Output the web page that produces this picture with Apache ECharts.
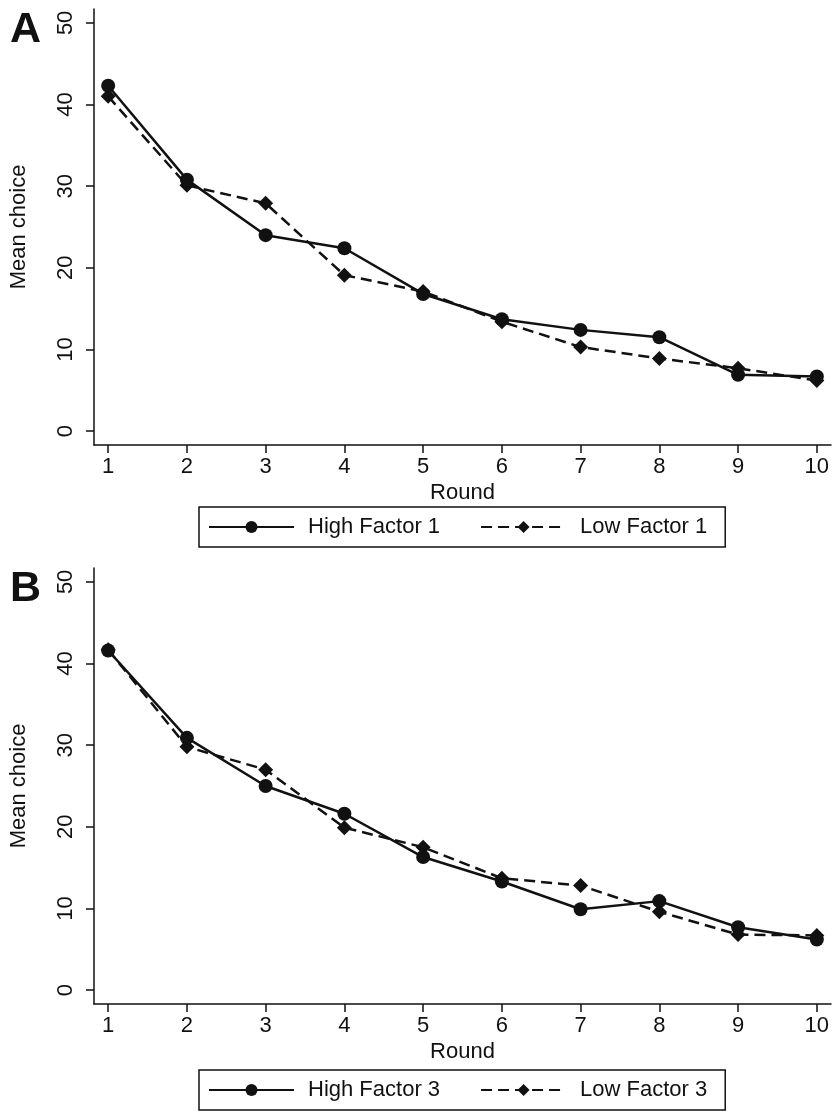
<!DOCTYPE html>
<html>
<head>
<meta charset="utf-8">
<script src="https://cdn.jsdelivr.net/npm/echarts@6/dist/echarts.min.js"></script>
<style>
  html, body { margin: 0; padding: 0; background: #fff; }
  #chart { width: 834px; height: 1111px; }
</style>
</head>
<body>
<div id="chart"></div>
<script>
// Rounds 1..10 and mean choices per group
const rounds = [1, 2, 3, 4, 5, 6, 7, 8, 9, 10];
const yTicks = [0, 10, 20, 30, 40, 50];

const highFactor1 = [42.3, 30.8, 24.0, 22.4, 16.8, 13.7, 12.4, 11.5, 6.9, 6.7];
const lowFactor1  = [41.0, 30.1, 27.9, 19.1, 17.1, 13.4, 10.3, 8.9, 7.7, 6.2];

const highFactor3 = [41.6, 30.9, 25.0, 21.6, 16.3, 13.3, 9.9, 10.9, 7.7, 6.2];
const lowFactor3  = [41.7, 29.8, 27.0, 19.9, 17.5, 13.7, 12.8, 9.6, 6.8, 6.7];

const FONT = '"Liberation Sans", Arial, sans-serif';
const INK = '#111';

function pairs(values) {
  return rounds.map((r, i) => [r, values[i]]);
}

function xAxisFor(gridIndex) {
  return {
    type: 'value', gridIndex,
    min: 0.82, max: 10.18,
    name: 'Round', nameLocation: 'middle', nameGap: 37,
    nameTextStyle: { fontFamily: FONT, fontSize: 22, color: INK },
    axisLine: { show: true, onZero: false, lineStyle: { color: INK, width: 1.5 } },
    axisTick: { show: true, length: 8, customValues: rounds, lineStyle: { color: INK, width: 1.5 } },
    axisLabel: { customValues: rounds, margin: 11, fontFamily: FONT, fontSize: 22, color: INK },
    splitLine: { show: false }
  };
}

function yAxisFor(gridIndex) {
  return {
    type: 'value', gridIndex,
    min: -1.7, max: 51.7,
    name: 'Mean choice', nameLocation: 'middle', nameGap: 64, nameRotate: 90,
    nameTextStyle: { fontFamily: FONT, fontSize: 22, color: INK },
    axisLine: { show: true, onZero: false, lineStyle: { color: INK, width: 1.5 } },
    axisTick: { show: true, length: 8, customValues: yTicks, lineStyle: { color: INK, width: 1.5 } },
    axisLabel: { customValues: yTicks, rotate: 90, margin: 17, fontFamily: FONT, fontSize: 22, color: INK },
    splitLine: { show: false }
  };
}

function lineSeries(name, values, idx, dashed) {
  return {
    name, type: 'line', xAxisIndex: idx, yAxisIndex: idx,
    data: pairs(values),
    symbol: dashed ? 'diamond' : 'circle',
    symbolSize: dashed ? 15 : 14,
    showAllSymbol: true,
    lineStyle: { color: INK, width: 2.5, type: dashed ? [11, 6] : 'solid' },
    itemStyle: { color: INK },
    emphasis: { disabled: true },
    animation: false,
    z: dashed ? 2 : 3
  };
}

function legendFor(names, top) {
  return {
    data: names,
    left: 199, top,
    orient: 'horizontal',
    itemWidth: 85, itemHeight: 15, itemGap: 40,
    padding: [9, 18, 9, 9],
    borderColor: INK, borderWidth: 1.5,
    textStyle: { fontFamily: FONT, fontSize: 22, color: INK, padding: [0, 0, 0, 9] },
    selectedMode: false
  };
}

const chart = echarts.init(document.getElementById('chart'), null, { renderer: 'canvas' });
chart.setOption({
  backgroundColor: '#fff',
  animation: false,
  title: [
    { text: 'A', left: 5, top: 4, textStyle: { fontFamily: FONT, fontSize: 43, fontWeight: 'bold', color: INK } },
    { text: 'B', left: 5, top: 563, textStyle: { fontFamily: FONT, fontSize: 43, fontWeight: 'bold', color: INK } }
  ],
  grid: [
    { left: 92, top: 9, width: 739, height: 436 },
    { left: 92, top: 568, width: 739, height: 436 }
  ],
  xAxis: [xAxisFor(0), xAxisFor(1)],
  yAxis: [yAxisFor(0), yAxisFor(1)],
  legend: [
    legendFor(['High Factor 1', 'Low Factor 1'], 507),
    legendFor(['High Factor 3', 'Low Factor 3'], 1070)
  ],
  series: [
    lineSeries('High Factor 1', highFactor1, 0, false),
    lineSeries('Low Factor 1', lowFactor1, 0, true),
    lineSeries('High Factor 3', highFactor3, 1, false),
    lineSeries('Low Factor 3', lowFactor3, 1, true)
  ]
});
</script>
</body>
</html>
